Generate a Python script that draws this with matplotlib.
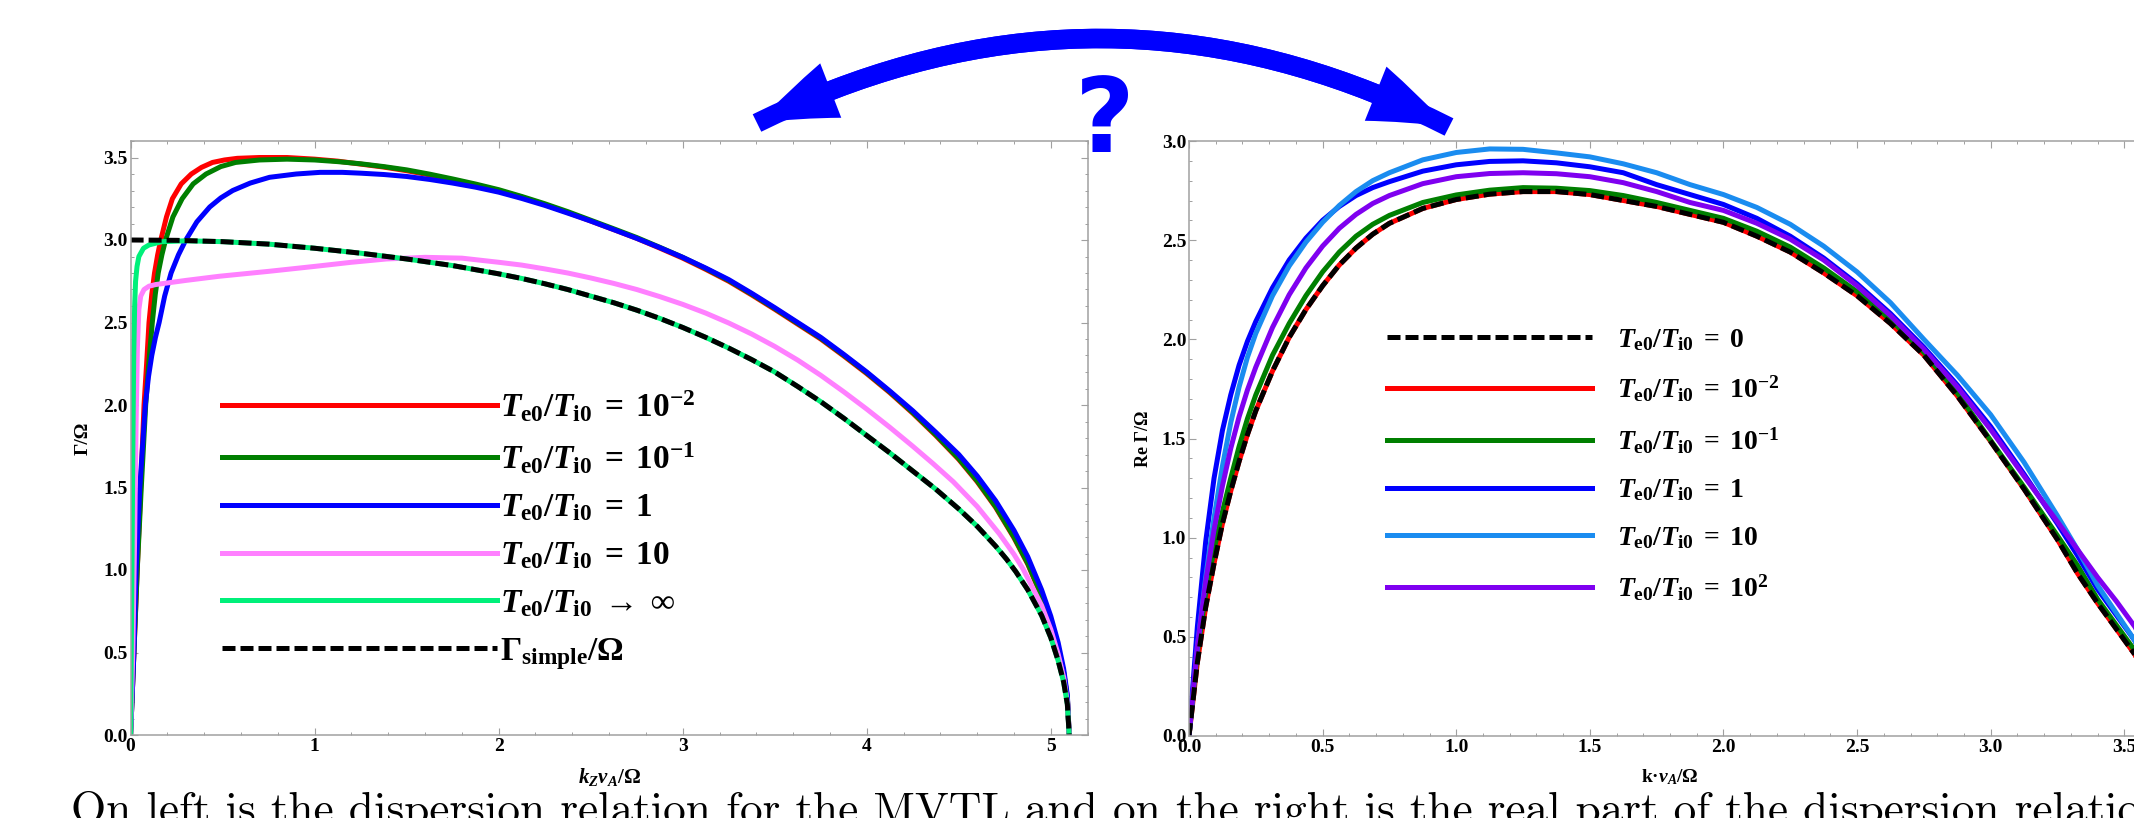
import matplotlib
matplotlib.use('Agg')
import matplotlib.pyplot as plt
from matplotlib.patches import FancyArrowPatch, ArrowStyle
from matplotlib.ticker import MultipleLocator, FormatStrFormatter

# ---------------- data: left panel (Gamma/Omega vs k_Z v_A/Omega) ----------------
kL_red = [0, 0.018, 0.036, 0.055, 0.073, 0.087, 0.10, 0.115, 0.13, 0.147, 0.164, 0.195, 0.227, 0.275,
          0.33, 0.385, 0.445, 0.51, 0.58, 0.70, 0.85, 1.0, 1.125, 1.25, 1.375, 1.5, 1.625, 1.75, 1.875,
          2.0, 2.125, 2.25, 2.375, 2.5, 2.625, 2.75, 2.875, 3.0, 3.125, 3.25, 3.375, 3.5, 3.625, 3.75,
          3.875, 4.0, 4.125, 4.25, 4.375, 4.5, 4.6, 4.7, 4.8, 4.875, 4.95, 5.0, 5.04, 5.07, 5.09, 5.1]
G_red = [0, 0.5, 1.0, 1.5, 2.0, 2.25, 2.5, 2.67, 2.8, 2.91, 3.0, 3.14, 3.25, 3.34,
         3.40, 3.44, 3.47, 3.485, 3.495, 3.50, 3.50, 3.49, 3.478, 3.46, 3.442, 3.42, 3.394, 3.365, 3.334,
         3.30, 3.26, 3.215, 3.167, 3.115, 3.063, 3.01, 2.951, 2.89, 2.822, 2.75, 2.667, 2.58, 2.49, 2.40,
         2.297, 2.19, 2.075, 1.95, 1.815, 1.67, 1.535, 1.38, 1.195, 1.035, 0.84, 0.68, 0.53, 0.375, 0.225, 0]

kL_grn = [0, 0.018, 0.036, 0.058, 0.082, 0.10, 0.118, 0.134, 0.15, 0.17, 0.19, 0.23, 0.28, 0.34,
          0.41, 0.49, 0.57, 0.70, 0.85, 1.0, 1.125, 1.25, 1.375, 1.5, 1.625, 1.75, 1.875,
          2.0, 2.125, 2.25, 2.375, 2.5, 2.625, 2.75, 2.875, 3.0, 3.125, 3.25, 3.375, 3.5, 3.625, 3.75,
          3.875, 4.0, 4.125, 4.25, 4.375, 4.5, 4.6, 4.7, 4.8, 4.875, 4.95, 5.0, 5.04, 5.07, 5.09, 5.1]
G_grn = [0, 0.5, 1.0, 1.5, 2.0, 2.27, 2.5, 2.67, 2.8, 2.91, 3.0, 3.14, 3.25, 3.34,
         3.40, 3.445, 3.47, 3.485, 3.49, 3.485, 3.475, 3.462, 3.445, 3.425, 3.399, 3.37, 3.339,
         3.305, 3.264, 3.22, 3.172, 3.12, 3.068, 3.015, 2.956, 2.895, 2.827, 2.755, 2.672, 2.585, 2.495, 2.405,
         2.302, 2.195, 2.08, 1.955, 1.82, 1.675, 1.54, 1.385, 1.2, 1.04, 0.845, 0.685, 0.535, 0.38, 0.228, 0]

kL_blu = [0, 0.018, 0.03, 0.05, 0.08, 0.097, 0.115, 0.135, 0.155, 0.185, 0.22, 0.26, 0.30, 0.36,
          0.43, 0.49, 0.555, 0.65, 0.755, 0.9, 1.03, 1.15, 1.25, 1.375, 1.5, 1.625, 1.75, 1.875,
          2.0, 2.125, 2.25, 2.375, 2.5, 2.625, 2.75, 2.875, 3.0, 3.125, 3.25, 3.375, 3.5, 3.625, 3.75,
          3.875, 4.0, 4.125, 4.25, 4.375, 4.5, 4.6, 4.7, 4.8, 4.875, 4.95, 5.0, 5.04, 5.07, 5.09, 5.1]
G_blu = [0, 0.5, 1.0, 1.5, 2.0, 2.17, 2.3, 2.41, 2.5, 2.66, 2.8, 2.91, 3.0, 3.11,
         3.2, 3.255, 3.3, 3.345, 3.38, 3.40, 3.41, 3.41, 3.405, 3.397, 3.385, 3.367, 3.345, 3.32,
         3.29, 3.252, 3.21, 3.163, 3.115, 3.063, 3.01, 2.954, 2.895, 2.83, 2.76, 2.677, 2.59, 2.50, 2.41,
         2.307, 2.20, 2.085, 1.965, 1.835, 1.70, 1.57, 1.42, 1.24, 1.08, 0.88, 0.72, 0.56, 0.40, 0.24, 0]

kL_pnk = [0, 0.012, 0.022, 0.03, 0.037, 0.045, 0.055, 0.073, 0.1, 0.136, 0.3, 0.48, 0.75, 1.0, 1.2,
          1.39, 1.6, 1.8, 2.0, 2.125, 2.25, 2.375, 2.5, 2.625, 2.75, 2.875, 3.0, 3.125, 3.25, 3.375,
          3.5, 3.625, 3.75, 3.875, 4.0, 4.125, 4.25, 4.36, 4.47, 4.6, 4.72, 4.8, 4.85, 4.95, 5.0,
          5.04, 5.07, 5.09, 5.1]
G_pnk = [0, 0.5, 1.2, 1.9, 2.35, 2.58, 2.66, 2.70, 2.72, 2.73, 2.755, 2.78, 2.81, 2.84, 2.865,
         2.885, 2.895, 2.89, 2.865, 2.848, 2.825, 2.80, 2.77, 2.737, 2.70, 2.657, 2.61, 2.557, 2.497, 2.43,
         2.355, 2.272, 2.18, 2.08, 1.975, 1.865, 1.75, 1.645, 1.535, 1.385, 1.22, 1.095, 1.005, 0.785, 0.64,
         0.49, 0.35, 0.2, 0]

kL_spg = [0, 0.006, 0.012, 0.017, 0.022, 0.027, 0.035, 0.045, 0.07, 0.1, 0.17, 0.3, 0.5, 0.75, 1.0,
          1.25, 1.5, 1.75, 2.0, 2.125, 2.25, 2.375, 2.5, 2.625, 2.75, 2.875, 3.0, 3.125, 3.25, 3.375,
          3.5, 3.625, 3.75, 3.875, 4.0, 4.125, 4.25, 4.375, 4.5, 4.6, 4.7, 4.76, 4.81, 4.875, 4.95,
          5.0, 5.04, 5.07, 5.09, 5.1]
G_spg = [0, 0.8, 1.7, 2.3, 2.6, 2.75, 2.84, 2.9, 2.95, 2.97, 2.99, 2.995, 2.99, 2.975, 2.95,
         2.92, 2.885, 2.845, 2.795, 2.767, 2.735, 2.70, 2.66, 2.62, 2.575, 2.525, 2.47, 2.41, 2.345, 2.275,
         2.20, 2.112, 2.02, 1.92, 1.815, 1.71, 1.60, 1.49, 1.37, 1.265, 1.145, 1.065, 0.99, 0.88, 0.725,
         0.59, 0.45, 0.32, 0.186, 0]

kL_simple = [0, 0.25, 0.5, 0.75, 1.0, 1.25, 1.5, 1.75, 2.0, 2.125, 2.25, 2.375, 2.5, 2.625, 2.75,
             2.875, 3.0, 3.125, 3.25, 3.375, 3.5, 3.625, 3.75, 3.875, 4.0, 4.125, 4.25, 4.375, 4.5,
             4.6, 4.7, 4.76, 4.81, 4.875, 4.95, 5.0, 5.04, 5.07, 5.09, 5.1]
G_simple = [3.0, 2.998, 2.99, 2.975, 2.95, 2.92, 2.885, 2.845, 2.795, 2.767, 2.735, 2.70, 2.66, 2.62, 2.575,
            2.525, 2.47, 2.41, 2.345, 2.275, 2.20, 2.112, 2.02, 1.92, 1.815, 1.71, 1.60, 1.49, 1.37,
            1.265, 1.145, 1.065, 0.99, 0.88, 0.725, 0.59, 0.45, 0.32, 0.186, 0]

labels_left = [r'$T_{\mathrm{e0}}/T_{\mathrm{i0}}\;=\;10^{-2}$',
               r'$T_{\mathrm{e0}}/T_{\mathrm{i0}}\;=\;10^{-1}$',
               r'$T_{\mathrm{e0}}/T_{\mathrm{i0}}\;=\;1$',
               r'$T_{\mathrm{e0}}/T_{\mathrm{i0}}\;=\;10$',
               r'$T_{\mathrm{e0}}/T_{\mathrm{i0}}\;\rightarrow\;\infty$',
               r'$\Gamma_{\mathrm{simple}}/\Omega$']

# ---------------- data: right panel (Re Gamma/Omega vs k v_A/Omega) ----------------
kR = [0, 0.03125, 0.0625, 0.09375, 0.125, 0.15625, 0.1875, 0.21875, 0.25, 0.3125, 0.375, 0.4375,
      0.5, 0.5625, 0.625, 0.6875, 0.75, 0.875, 1.0, 1.125, 1.25, 1.375, 1.5, 1.625, 1.75, 1.875,
      2.0, 2.125, 2.25, 2.375, 2.5, 2.625, 2.75, 2.875, 3.0, 3.125, 3.25, 3.325, 3.4, 3.47, 3.54,
      3.58, 3.62]
R_0 = [0, 0.37, 0.65, 0.87, 1.07, 1.235, 1.385, 1.52, 1.64, 1.84, 2.01, 2.15,
       2.27, 2.375, 2.46, 2.53, 2.585, 2.66, 2.705, 2.732, 2.745, 2.745, 2.73, 2.70, 2.67, 2.63,
       2.59, 2.52, 2.44, 2.335, 2.22, 2.08, 1.92, 1.715, 1.485, 1.245, 0.99, 0.82, 0.67, 0.54, 0.41,
       0.27, 0]
R_m2 = [0, 0.37, 0.65, 0.87, 1.07, 1.235, 1.385, 1.52, 1.64, 1.84, 2.01, 2.15,
        2.27, 2.375, 2.46, 2.53, 2.585, 2.66, 2.705, 2.732, 2.745, 2.745, 2.73, 2.70, 2.67, 2.63,
        2.59, 2.52, 2.44, 2.335, 2.22, 2.08, 1.92, 1.715, 1.485, 1.245, 0.99, 0.82, 0.67, 0.54, 0.41,
        0.27, 0]
R_m1 = [0, 0.42, 0.72, 0.94, 1.13, 1.30, 1.46, 1.60, 1.72, 1.92, 2.08, 2.22,
        2.34, 2.44, 2.52, 2.58, 2.625, 2.69, 2.728, 2.752, 2.765, 2.762, 2.75, 2.725, 2.69, 2.65,
        2.61, 2.545, 2.465, 2.36, 2.24, 2.10, 1.935, 1.73, 1.49, 1.255, 1.01, 0.86, 0.69, 0.56, 0.43,
        0.29, 0]
R_1 = [0, 0.55, 0.98, 1.30, 1.54, 1.72, 1.87, 1.99, 2.09, 2.26, 2.40, 2.51,
       2.60, 2.67, 2.725, 2.765, 2.795, 2.848, 2.88, 2.897, 2.90, 2.89, 2.87, 2.84, 2.78, 2.73,
       2.68, 2.61, 2.52, 2.41, 2.28, 2.13, 1.96, 1.77, 1.56, 1.32, 1.07, 0.91, 0.74, 0.61, 0.48,
       0.36, 0.1]
R_10 = [0, 0.45, 0.80, 1.10, 1.36, 1.58, 1.76, 1.91, 2.03, 2.22, 2.37, 2.49,
        2.59, 2.675, 2.745, 2.80, 2.84, 2.905, 2.942, 2.96, 2.958, 2.94, 2.92, 2.885, 2.84, 2.78,
        2.73, 2.665, 2.58, 2.47, 2.34, 2.185, 2.00, 1.82, 1.62, 1.38, 1.11, 0.94, 0.76, 0.62, 0.48,
        0.36, 0.1]
R_100 = [0, 0.45, 0.78, 1.04, 1.26, 1.45, 1.61, 1.745, 1.86, 2.06, 2.225, 2.36,
         2.47, 2.56, 2.63, 2.685, 2.725, 2.785, 2.82, 2.836, 2.84, 2.835, 2.82, 2.79, 2.745, 2.69,
         2.65, 2.585, 2.505, 2.40, 2.27, 2.12, 1.95, 1.76, 1.545, 1.31, 1.08, 0.94, 0.80, 0.68, 0.55,
         0.45, 0.3]

labels_right = [r'$T_{\mathrm{e0}}/T_{\mathrm{i0}}\;=\;0$',
                r'$T_{\mathrm{e0}}/T_{\mathrm{i0}}\;=\;10^{-2}$',
                r'$T_{\mathrm{e0}}/T_{\mathrm{i0}}\;=\;10^{-1}$',
                r'$T_{\mathrm{e0}}/T_{\mathrm{i0}}\;=\;1$',
                r'$T_{\mathrm{e0}}/T_{\mathrm{i0}}\;=\;10$',
                r'$T_{\mathrm{e0}}/T_{\mathrm{i0}}\;=\;10^{2}$']

caption = 'On left is the dispersion relation for the MVTL and on the right is the real part of the dispersion relation'

# ---------------- style ----------------
plt.rcParams['mathtext.fontset'] = 'custom'
plt.rcParams['mathtext.rm'] = 'Liberation Serif:bold'
plt.rcParams['mathtext.it'] = 'Liberation Serif:italic:bold'
plt.rcParams['mathtext.bf'] = 'Liberation Serif:bold'
plt.rcParams['mathtext.sf'] = 'Liberation Serif:bold'
plt.rcParams['font.family'] = ['Liberation Serif', 'DejaVu Serif']
plt.rcParams['font.weight'] = 'bold'

W, H = 2134, 818
fig = plt.figure(figsize=(W / 100, H / 100), dpi=100)
axL = fig.add_axes([130.6 / W, 83 / H, 957 / W, 594 / H])
axR = fig.add_axes([1189 / W, 82 / H, 962 / W, 595 / H])

FRAME = '#a0a0a0'
LW = 3.6
DASH = (0, (2.6, 1.0))


def style(ax, xmaj, xmin, ymaj, ymin, xfmt, yfmt):
    for s in ax.spines.values():
        s.set_color(FRAME)
        s.set_linewidth(1.1)
    ax.xaxis.set_major_locator(MultipleLocator(xmaj))
    ax.xaxis.set_minor_locator(MultipleLocator(xmin))
    ax.yaxis.set_major_locator(MultipleLocator(ymaj))
    ax.yaxis.set_minor_locator(MultipleLocator(ymin))
    ax.xaxis.set_major_formatter(FormatStrFormatter(xfmt))
    ax.yaxis.set_major_formatter(FormatStrFormatter(yfmt))
    ax.tick_params(which='both', direction='in', top=True, right=True, color=FRAME,
                   labelsize=14, labelcolor='black')
    ax.tick_params(which='major', length=5, width=0.8, pad=2)
    ax.tick_params(which='minor', length=2.5, width=0.7)


# left panel
l_red, = axL.plot(kL_red, G_red, color='#ff0000', lw=LW)
l_grn, = axL.plot(kL_grn, G_grn, color='#007f00', lw=LW)
l_blu, = axL.plot(kL_blu, G_blu, color='#0000ff', lw=LW)
l_pnk, = axL.plot(kL_pnk, G_pnk, color='#ff80ff', lw=LW)
l_spg, = axL.plot(kL_spg, G_spg, color='#00f07a', lw=LW)
l_blk, = axL.plot(kL_simple, G_simple, color='black', lw=LW, ls=DASH)
axL.set_xlim(0, 5.2)
axL.set_ylim(0, 3.6)
style(axL, 1, 0.2, 0.5, 0.1, '%d', '%.1f')
axL.set_ylabel('Γ/Ω', fontsize=14, fontweight='bold')
axL.yaxis.set_label_coords(-0.041, 0.5)
axL.set_xlabel(r'$k_Z v_A$/Ω', fontsize=15, fontweight='bold')
axL.xaxis.set_label_coords(0.5, -0.052)
axL.legend([l_red, l_grn, l_blu, l_pnk, l_spg, l_blk], labels_left, loc='center left',
           bbox_to_anchor=(0.0955, 0.345), frameon=False, fontsize=24, handlelength=8.25,
           handletextpad=0.1, labelspacing=0.5, borderpad=0, borderaxespad=0)

# right panel
r_m2, = axR.plot(kR, R_m2, color='#ff0000', lw=LW)
r_m1, = axR.plot(kR, R_m1, color='#007f00', lw=LW)
r_1, = axR.plot(kR, R_1, color='#0000ff', lw=LW)
r_10, = axR.plot(kR, R_10, color='#1a8cf0', lw=LW)
r_100, = axR.plot(kR, R_100, color='#7f00f0', lw=LW)
r_0, = axR.plot(kR, R_0, color='black', lw=LW, ls=DASH)
axR.set_xlim(0, 3.6)
axR.set_ylim(0, 3.0)
style(axR, 0.5, 0.1, 0.5, 0.1, '%.1f', '%.1f')
axR.set_ylabel('Re Γ/Ω', fontsize=13, fontweight='bold')
axR.yaxis.set_label_coords(-0.0385, 0.5)
axR.set_xlabel(r'k·$v_A$/Ω', fontsize=14, fontweight='bold')
axR.xaxis.set_label_coords(0.5, -0.052)
axR.legend([r_0, r_m2, r_m1, r_1, r_10, r_100], labels_right, loc='center left',
           bbox_to_anchor=(0.2055, 0.456), frameon=False, fontsize=20, handlelength=7.4,
           handletextpad=0.9, labelspacing=0.77, borderpad=0, borderaxespad=0)

# curved double arrow and question mark
A = (757 / W, 1 - 123 / H)
B = (1449 / W, 1 - 127 / H)
style_arrow = ArrowStyle.Simple(head_length=58, head_width=42, tail_width=14)
for p, q, rad in [(A, B, -0.25), (B, A, 0.25)]:
    arr = FancyArrowPatch(posA=p, posB=q, arrowstyle=style_arrow,
                          connectionstyle='arc3,rad=%s' % rad, mutation_scale=1,
                          color='#0000ff', lw=0, shrinkA=0, shrinkB=0,
                          transform=fig.transFigure, zorder=5)
    fig.add_artist(arr)

fig.text(1105 / W, 1 - 152 / H, '?', fontfamily='DejaVu Sans', fontweight='bold', fontsize=74,
         color='#0000ff', ha='center', va='baseline', zorder=10)

fig.text(71 / W, -5 / H, caption, fontfamily='cmr10', fontweight='normal', fontsize=32.6,
         ha='left', va='baseline')

fig.savefig('out.png', dpi=100)
